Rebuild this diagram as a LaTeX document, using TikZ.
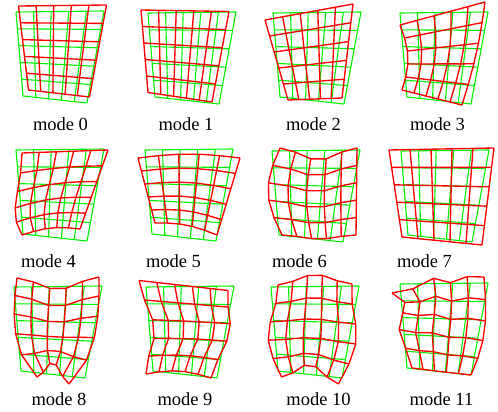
\documentclass[tikz,border=0pt]{standalone}
\usepackage{fontspec}
\setmainfont{Liberation Serif}
\newcommand\gridpanel[4]{%
  \begin{scope}[shift={(#1,#2)}, declare function={dxm(\x,\y)=#3; dym(\x,\y)=#4;}]
    \foreach \gv in {0,0.2,0.4,0.6,0.8,1}{
      \draw[greengrid] ({bx(0,\gv)},{by(0,\gv)}) -- ({bx(1,\gv)},{by(1,\gv)});
      \draw[greengrid] ({bx(\gv,0)},{by(\gv,0)}) -- ({bx(\gv,1)},{by(\gv,1)});
    }
    \foreach \gv in {0,0.2,0.4,0.6,0.8,1}{
      \draw[redgrid] plot[variable=\pw, samples at={0,0.2,0.4,0.6,0.8,1}] ({bx(\pw,\gv)+dxm(\pw,\gv)},{by(\pw,\gv)+dym(\pw,\gv)});
      \draw[redgrid] plot[variable=\pw, samples at={0,0.2,0.4,0.6,0.8,1}] ({bx(\gv,\pw)+dxm(\gv,\pw)},{by(\gv,\pw)+dym(\gv,\pw)});
    }
  \end{scope}}
\begin{document}
\begin{tikzpicture}[x=1pt,y=-1pt,
  greengrid/.style={draw={rgb,255:red,0;green,240;blue,0}, line width=1.1pt, line join=round},
  redgrid/.style={draw={rgb,255:red,255;green,0;blue,0}, line width=1.35pt, line join=round},
  modelabel/.style={font=\fontsize{18.5}{22}\selectfont, anchor=base, inner sep=0pt},
  declare function={
    bx(\x,\y)=88*\x+7*\y-24*\x*\y;
    by(\x,\y)=-\x+84*\y+8*\x*\y;
    bil(\x,\y,\pa,\pb,\pc,\pd)=(1-\x)*(1-\y)*\pa+\x*(1-\y)*\pb+(1-\x)*\y*\pc+\x*\y*\pd;
  }]
\useasboundingbox (0,0) rectangle (498,412);
% row 1
\gridpanel{16}{12}{2.5+3*\y*(1-\x)}{-6}
\gridpanel{148}{13}{-7}{-3+2.5*\x-1.5*\y}
\gridpanel{273}{13}{bil(\x,\y,-8,-8,8,-2)}{bil(\x,\y,7,-8,3,-6)}
\gridpanel{400}{13}{bil(\x,\y,0,-3,-5,-9)+7*sin(180*\y)*(1-0.6*\x)}{bil(\x,\y,12,-10,-7,1)}
% row 2
\gridpanel{16}{150}{bil(\x,\y,6,4,-1,-7)-12*sin(180*\y)*\y*(1-\x)}{bil(\x,\y,3,1,1,-12)+6*sin(180*\y)*(1-\x)*(1-\x)-4*sin(180*\x)*\y}
\gridpanel{145}{150}{bil(\x,\y,-7,7,3,1)}{bil(\x,\y,8,9,-11,-6)-4*sin(180*\x)}
\gridpanel{272}{151}{bil(\x,\y,8,-3,3,13)-13*sin(180*\y)*(1-\x)*(1-\x)}{bil(\x,\y,-3,-2,0,-7)+sin(180*\x)*sin(180*\x)*(12*(1-\y)+4*\y)}
\gridpanel{401}{151}{bil(\x,\y,-12,5,-6,10)}{bil(\x,\y,-1,-2,2,3)}
% row 3
\gridpanel{14}{287}{-(2*\x-1)*(3*(1-\y)*(1-\y)-4*sin(180*\y)+16*\y*\y*\y*\y*\y*\y)}{-3+(-6+15*\y*\y)*cos(360*\x)}
\gridpanel{146}{287}{(6-\x)*cos(360*(\y-0.5))-1}{(11*\x-6.5)*max(0,1-2*\y)-5*sin(180*\x)*\y*\y*\y+3*\y*\y*(1-\x)}
\gridpanel{271}{287}{-(2*\x-1)*7*cos(300*\y)}{-2+8*\y-sin(180*\x)*sin(180*\x)*(10+6*\y)*(0.3+0.7*(2*\y-1)*(2*\y-1))}
\gridpanel{400}{284}{-8*max(0,1-2.5*\x)*max(0,1-4*\y)+5*sin(450*\y)*(1-\x)*(1-\x)+7*sin(180*\y)*\x*\x-4*\x*(1-\y)}{9*max(0,1-2.5*\x)*max(0,1-2.5*\y)-6*\x*(1-\y)+10*(\x-0.5)*sin(180*\y)+3*sin(720*\x)*(1-\y)}
% labels
\node[modelabel] (l0) at (60.5,130) {mode 0};
\node[modelabel] (l1) at (186,130) {mode 1};
\node[modelabel] (l2) at (313.5,130) {mode 2};
\node[modelabel] (l3) at (437.5,130) {mode 3};
\node[modelabel] (l4) at (48.5,267) {mode 4};
\node[modelabel] (l5) at (173.5,267) {mode 5};
\node[modelabel] (l6) at (299.5,267) {mode 6};
\node[modelabel] (l7) at (424.5,267) {mode 7};
\node[modelabel] (l8) at (59,405) {mode 8};
\node[modelabel] (l9) at (185,405) {mode 9};
\node[modelabel] (l10) at (318.5,405) {mode 10};
\node[modelabel] (l11) at (441.5,405) {mode 11};
\end{tikzpicture}
\end{document}
